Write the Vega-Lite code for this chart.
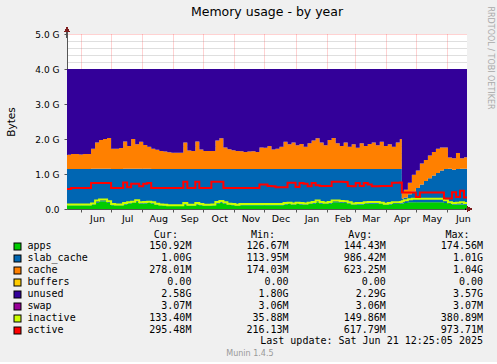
{
  "$schema": "https://vega.github.io/schema/vega-lite/v6.json",
  "background": "#f0f0f0",
  "padding": {"left": 6, "top": 5, "right": 4, "bottom": 4},
  "config": {
    "view": {"stroke": null},
    "font": "DejaVu Sans",
    "axis": {"zindex": 1, "labelFont": "DejaVu Sans", "titleFont": "DejaVu Sans", "labelColor": "#000000", "titleColor": "#000000", "titleFontWeight": "normal", "domainColor": "#555555", "tickColor": "#555555"},
    "title": {"font": "DejaVu Sans", "fontWeight": "normal", "color": "#000000"}
  },
  "title": {"text": "Munin 1.4.5", "orient": "bottom", "anchor": "middle", "fontSize": 8, "color": "#999999", "offset": 4},
  "spacing": 6,
  "vconcat": [
    {
      "width": 400,
      "height": 175,
      "view": {"fill": "#ffffff", "stroke": null},
      "title": {"text": "Memory usage - by year", "fontSize": 12.5, "anchor": "middle", "frame": "group", "offset": -12},
      "data": {"values": [
        {"date": "2024-05-18", "apps": 0.11, "slab_cache": 1.03, "cache": 0.41, "buffers": 0, "unused": 2.447, "swap": 0.003, "inactive": 0.13, "active": 0.57},
        {"date": "2024-05-22", "apps": 0.11, "slab_cache": 1.03, "cache": 0.43, "buffers": 0, "unused": 2.427, "swap": 0.003, "inactive": 0.13, "active": 0.6},
        {"date": "2024-05-26", "apps": 0.11, "slab_cache": 1.03, "cache": 0.43, "buffers": 0, "unused": 2.427, "swap": 0.003, "inactive": 0.13, "active": 0.6},
        {"date": "2024-05-30", "apps": 0.11, "slab_cache": 1.03, "cache": 0.42, "buffers": 0, "unused": 2.437, "swap": 0.003, "inactive": 0.13, "active": 0.6},
        {"date": "2024-06-03", "apps": 0.11, "slab_cache": 1.03, "cache": 0.43, "buffers": 0, "unused": 2.427, "swap": 0.003, "inactive": 0.13, "active": 0.6},
        {"date": "2024-06-07", "apps": 0.11, "slab_cache": 1.03, "cache": 0.43, "buffers": 0, "unused": 2.427, "swap": 0.003, "inactive": 0.13, "active": 0.6},
        {"date": "2024-06-11", "apps": 0.12, "slab_cache": 1.03, "cache": 0.57, "buffers": 0, "unused": 2.277, "swap": 0.003, "inactive": 0.16, "active": 0.74},
        {"date": "2024-06-15", "apps": 0.18, "slab_cache": 0.97, "cache": 0.75, "buffers": 0, "unused": 2.097, "swap": 0.003, "inactive": 0.24, "active": 0.74},
        {"date": "2024-06-19", "apps": 0.22, "slab_cache": 0.93, "cache": 0.82, "buffers": 0, "unused": 2.027, "swap": 0.003, "inactive": 0.27, "active": 0.74},
        {"date": "2024-06-23", "apps": 0.22, "slab_cache": 0.93, "cache": 0.85, "buffers": 0, "unused": 1.997, "swap": 0.003, "inactive": 0.27, "active": 0.74},
        {"date": "2024-06-27", "apps": 0.17, "slab_cache": 0.98, "cache": 0.88, "buffers": 0, "unused": 1.967, "swap": 0.003, "inactive": 0.22, "active": 0.74},
        {"date": "2024-07-01", "apps": 0.11, "slab_cache": 1.03, "cache": 0.58, "buffers": 0, "unused": 2.277, "swap": 0.003, "inactive": 0.14, "active": 0.6},
        {"date": "2024-07-05", "apps": 0.11, "slab_cache": 1.03, "cache": 0.58, "buffers": 0, "unused": 2.277, "swap": 0.003, "inactive": 0.13, "active": 0.6},
        {"date": "2024-07-09", "apps": 0.11, "slab_cache": 1.03, "cache": 0.6, "buffers": 0, "unused": 2.257, "swap": 0.003, "inactive": 0.13, "active": 0.6},
        {"date": "2024-07-13", "apps": 0.13, "slab_cache": 1.02, "cache": 0.78, "buffers": 0, "unused": 2.067, "swap": 0.003, "inactive": 0.17, "active": 0.76},
        {"date": "2024-07-17", "apps": 0.15, "slab_cache": 1.0, "cache": 0.65, "buffers": 0, "unused": 2.197, "swap": 0.003, "inactive": 0.19, "active": 0.62},
        {"date": "2024-07-21", "apps": 0.17, "slab_cache": 0.98, "cache": 0.85, "buffers": 0, "unused": 1.997, "swap": 0.003, "inactive": 0.21, "active": 0.72},
        {"date": "2024-07-25", "apps": 0.2, "slab_cache": 0.95, "cache": 0.7, "buffers": 0, "unused": 2.147, "swap": 0.003, "inactive": 0.25, "active": 0.72},
        {"date": "2024-07-29", "apps": 0.15, "slab_cache": 1.0, "cache": 0.77, "buffers": 0, "unused": 2.077, "swap": 0.003, "inactive": 0.19, "active": 0.65},
        {"date": "2024-08-02", "apps": 0.16, "slab_cache": 0.99, "cache": 0.68, "buffers": 0, "unused": 2.167, "swap": 0.003, "inactive": 0.2, "active": 0.72},
        {"date": "2024-08-06", "apps": 0.17, "slab_cache": 0.98, "cache": 0.63, "buffers": 0, "unused": 2.217, "swap": 0.003, "inactive": 0.21, "active": 0.74},
        {"date": "2024-08-10", "apps": 0.15, "slab_cache": 0.99, "cache": 0.58, "buffers": 0, "unused": 2.277, "swap": 0.003, "inactive": 0.19, "active": 0.6},
        {"date": "2024-08-14", "apps": 0.12, "slab_cache": 1.02, "cache": 0.55, "buffers": 0, "unused": 2.307, "swap": 0.003, "inactive": 0.15, "active": 0.6},
        {"date": "2024-08-18", "apps": 0.11, "slab_cache": 1.03, "cache": 0.52, "buffers": 0, "unused": 2.337, "swap": 0.003, "inactive": 0.13, "active": 0.6},
        {"date": "2024-08-22", "apps": 0.1, "slab_cache": 1.04, "cache": 0.5, "buffers": 0, "unused": 2.357, "swap": 0.003, "inactive": 0.12, "active": 0.6},
        {"date": "2024-08-26", "apps": 0.09, "slab_cache": 1.05, "cache": 0.48, "buffers": 0, "unused": 2.377, "swap": 0.003, "inactive": 0.11, "active": 0.6},
        {"date": "2024-08-30", "apps": 0.09, "slab_cache": 1.05, "cache": 0.47, "buffers": 0, "unused": 2.387, "swap": 0.003, "inactive": 0.11, "active": 0.6},
        {"date": "2024-09-03", "apps": 0.09, "slab_cache": 1.05, "cache": 0.47, "buffers": 0, "unused": 2.387, "swap": 0.003, "inactive": 0.11, "active": 0.6},
        {"date": "2024-09-07", "apps": 0.09, "slab_cache": 1.05, "cache": 0.47, "buffers": 0, "unused": 2.387, "swap": 0.003, "inactive": 0.11, "active": 0.6},
        {"date": "2024-09-11", "apps": 0.13, "slab_cache": 1.01, "cache": 0.76, "buffers": 0, "unused": 2.097, "swap": 0.003, "inactive": 0.17, "active": 0.78},
        {"date": "2024-09-15", "apps": 0.1, "slab_cache": 1.04, "cache": 0.53, "buffers": 0, "unused": 2.327, "swap": 0.003, "inactive": 0.12, "active": 0.6},
        {"date": "2024-09-19", "apps": 0.1, "slab_cache": 1.04, "cache": 0.52, "buffers": 0, "unused": 2.337, "swap": 0.003, "inactive": 0.12, "active": 0.6},
        {"date": "2024-09-23", "apps": 0.13, "slab_cache": 1.01, "cache": 0.79, "buffers": 0, "unused": 2.067, "swap": 0.003, "inactive": 0.17, "active": 0.78},
        {"date": "2024-09-27", "apps": 0.11, "slab_cache": 1.03, "cache": 0.56, "buffers": 0, "unused": 2.297, "swap": 0.003, "inactive": 0.14, "active": 0.6},
        {"date": "2024-10-01", "apps": 0.1, "slab_cache": 1.04, "cache": 0.52, "buffers": 0, "unused": 2.337, "swap": 0.003, "inactive": 0.12, "active": 0.6},
        {"date": "2024-10-05", "apps": 0.1, "slab_cache": 1.04, "cache": 0.52, "buffers": 0, "unused": 2.337, "swap": 0.003, "inactive": 0.12, "active": 0.6},
        {"date": "2024-10-09", "apps": 0.1, "slab_cache": 1.04, "cache": 0.52, "buffers": 0, "unused": 2.337, "swap": 0.003, "inactive": 0.13, "active": 0.78},
        {"date": "2024-10-13", "apps": 0.15, "slab_cache": 0.99, "cache": 0.82, "buffers": 0, "unused": 2.037, "swap": 0.003, "inactive": 0.2, "active": 0.78},
        {"date": "2024-10-17", "apps": 0.18, "slab_cache": 0.96, "cache": 0.88, "buffers": 0, "unused": 1.977, "swap": 0.003, "inactive": 0.23, "active": 0.78},
        {"date": "2024-10-21", "apps": 0.15, "slab_cache": 0.99, "cache": 0.62, "buffers": 0, "unused": 2.237, "swap": 0.003, "inactive": 0.19, "active": 0.6},
        {"date": "2024-10-25", "apps": 0.12, "slab_cache": 1.02, "cache": 0.57, "buffers": 0, "unused": 2.287, "swap": 0.003, "inactive": 0.15, "active": 0.6},
        {"date": "2024-10-29", "apps": 0.11, "slab_cache": 1.03, "cache": 0.54, "buffers": 0, "unused": 2.317, "swap": 0.003, "inactive": 0.14, "active": 0.6},
        {"date": "2024-11-02", "apps": 0.1, "slab_cache": 1.04, "cache": 0.52, "buffers": 0, "unused": 2.337, "swap": 0.003, "inactive": 0.12, "active": 0.6},
        {"date": "2024-11-06", "apps": 0.11, "slab_cache": 1.03, "cache": 0.51, "buffers": 0, "unused": 2.347, "swap": 0.003, "inactive": 0.14, "active": 0.6},
        {"date": "2024-11-10", "apps": 0.11, "slab_cache": 1.03, "cache": 0.49, "buffers": 0, "unused": 2.367, "swap": 0.003, "inactive": 0.14, "active": 0.6},
        {"date": "2024-11-14", "apps": 0.11, "slab_cache": 1.03, "cache": 0.5, "buffers": 0, "unused": 2.357, "swap": 0.003, "inactive": 0.14, "active": 0.6},
        {"date": "2024-11-18", "apps": 0.11, "slab_cache": 1.03, "cache": 0.51, "buffers": 0, "unused": 2.347, "swap": 0.003, "inactive": 0.14, "active": 0.6},
        {"date": "2024-11-22", "apps": 0.11, "slab_cache": 1.03, "cache": 0.49, "buffers": 0, "unused": 2.367, "swap": 0.003, "inactive": 0.14, "active": 0.6},
        {"date": "2024-11-26", "apps": 0.11, "slab_cache": 1.03, "cache": 0.62, "buffers": 0, "unused": 2.237, "swap": 0.003, "inactive": 0.14, "active": 0.7},
        {"date": "2024-11-30", "apps": 0.11, "slab_cache": 1.03, "cache": 0.61, "buffers": 0, "unused": 2.247, "swap": 0.003, "inactive": 0.14, "active": 0.7},
        {"date": "2024-12-04", "apps": 0.11, "slab_cache": 1.03, "cache": 0.66, "buffers": 0, "unused": 2.197, "swap": 0.003, "inactive": 0.14, "active": 0.66},
        {"date": "2024-12-08", "apps": 0.11, "slab_cache": 1.03, "cache": 0.56, "buffers": 0, "unused": 2.297, "swap": 0.003, "inactive": 0.14, "active": 0.65},
        {"date": "2024-12-12", "apps": 0.11, "slab_cache": 1.03, "cache": 0.58, "buffers": 0, "unused": 2.277, "swap": 0.003, "inactive": 0.14, "active": 0.62},
        {"date": "2024-12-16", "apps": 0.11, "slab_cache": 1.03, "cache": 0.64, "buffers": 0, "unused": 2.217, "swap": 0.003, "inactive": 0.14, "active": 0.62},
        {"date": "2024-12-20", "apps": 0.13, "slab_cache": 1.01, "cache": 0.78, "buffers": 0, "unused": 2.077, "swap": 0.003, "inactive": 0.17, "active": 0.62},
        {"date": "2024-12-24", "apps": 0.14, "slab_cache": 1.0, "cache": 0.71, "buffers": 0, "unused": 2.147, "swap": 0.003, "inactive": 0.18, "active": 0.75},
        {"date": "2024-12-28", "apps": 0.12, "slab_cache": 1.02, "cache": 0.76, "buffers": 0, "unused": 2.097, "swap": 0.003, "inactive": 0.16, "active": 0.75},
        {"date": "2025-01-01", "apps": 0.14, "slab_cache": 1.0, "cache": 0.68, "buffers": 0, "unused": 2.177, "swap": 0.003, "inactive": 0.18, "active": 0.63},
        {"date": "2025-01-05", "apps": 0.13, "slab_cache": 1.01, "cache": 0.72, "buffers": 0, "unused": 2.137, "swap": 0.003, "inactive": 0.17, "active": 0.74},
        {"date": "2025-01-09", "apps": 0.12, "slab_cache": 1.02, "cache": 0.64, "buffers": 0, "unused": 2.217, "swap": 0.003, "inactive": 0.16, "active": 0.72},
        {"date": "2025-01-13", "apps": 0.14, "slab_cache": 1.0, "cache": 0.74, "buffers": 0, "unused": 2.117, "swap": 0.003, "inactive": 0.18, "active": 0.65},
        {"date": "2025-01-17", "apps": 0.15, "slab_cache": 0.99, "cache": 0.82, "buffers": 0, "unused": 2.037, "swap": 0.003, "inactive": 0.2, "active": 0.74},
        {"date": "2025-01-21", "apps": 0.19, "slab_cache": 0.95, "cache": 0.88, "buffers": 0, "unused": 1.977, "swap": 0.003, "inactive": 0.24, "active": 0.68},
        {"date": "2025-01-25", "apps": 0.15, "slab_cache": 0.99, "cache": 0.76, "buffers": 0, "unused": 2.097, "swap": 0.003, "inactive": 0.2, "active": 0.66},
        {"date": "2025-01-29", "apps": 0.14, "slab_cache": 1.0, "cache": 0.68, "buffers": 0, "unused": 2.177, "swap": 0.003, "inactive": 0.18, "active": 0.66},
        {"date": "2025-02-02", "apps": 0.15, "slab_cache": 0.99, "cache": 0.83, "buffers": 0, "unused": 2.027, "swap": 0.003, "inactive": 0.2, "active": 0.66},
        {"date": "2025-02-06", "apps": 0.19, "slab_cache": 0.95, "cache": 0.89, "buffers": 0, "unused": 1.967, "swap": 0.003, "inactive": 0.24, "active": 0.78},
        {"date": "2025-02-10", "apps": 0.19, "slab_cache": 0.95, "cache": 0.74, "buffers": 0, "unused": 2.117, "swap": 0.003, "inactive": 0.24, "active": 0.78},
        {"date": "2025-02-14", "apps": 0.18, "slab_cache": 0.96, "cache": 0.66, "buffers": 0, "unused": 2.197, "swap": 0.003, "inactive": 0.23, "active": 0.78},
        {"date": "2025-02-18", "apps": 0.17, "slab_cache": 0.97, "cache": 0.76, "buffers": 0, "unused": 2.097, "swap": 0.003, "inactive": 0.22, "active": 0.77},
        {"date": "2025-02-22", "apps": 0.15, "slab_cache": 0.99, "cache": 0.64, "buffers": 0, "unused": 2.217, "swap": 0.003, "inactive": 0.19, "active": 0.66},
        {"date": "2025-02-26", "apps": 0.13, "slab_cache": 1.01, "cache": 0.71, "buffers": 0, "unused": 2.147, "swap": 0.003, "inactive": 0.16, "active": 0.65},
        {"date": "2025-03-02", "apps": 0.13, "slab_cache": 1.01, "cache": 0.61, "buffers": 0, "unused": 2.247, "swap": 0.003, "inactive": 0.17, "active": 0.74},
        {"date": "2025-03-06", "apps": 0.13, "slab_cache": 1.01, "cache": 0.74, "buffers": 0, "unused": 2.117, "swap": 0.003, "inactive": 0.17, "active": 0.66},
        {"date": "2025-03-10", "apps": 0.15, "slab_cache": 0.99, "cache": 0.66, "buffers": 0, "unused": 2.197, "swap": 0.003, "inactive": 0.19, "active": 0.74},
        {"date": "2025-03-14", "apps": 0.15, "slab_cache": 0.99, "cache": 0.72, "buffers": 0, "unused": 2.137, "swap": 0.003, "inactive": 0.2, "active": 0.7},
        {"date": "2025-03-18", "apps": 0.15, "slab_cache": 0.99, "cache": 0.76, "buffers": 0, "unused": 2.097, "swap": 0.003, "inactive": 0.2, "active": 0.65},
        {"date": "2025-03-22", "apps": 0.15, "slab_cache": 0.99, "cache": 0.68, "buffers": 0, "unused": 2.177, "swap": 0.003, "inactive": 0.2, "active": 0.65},
        {"date": "2025-03-26", "apps": 0.14, "slab_cache": 1.0, "cache": 0.78, "buffers": 0, "unused": 2.077, "swap": 0.003, "inactive": 0.18, "active": 0.66},
        {"date": "2025-03-30", "apps": 0.12, "slab_cache": 1.02, "cache": 0.66, "buffers": 0, "unused": 2.197, "swap": 0.003, "inactive": 0.15, "active": 0.66},
        {"date": "2025-04-03", "apps": 0.13, "slab_cache": 1.01, "cache": 0.71, "buffers": 0, "unused": 2.147, "swap": 0.003, "inactive": 0.17, "active": 0.66},
        {"date": "2025-04-07", "apps": 0.14, "slab_cache": 1.0, "cache": 0.64, "buffers": 0, "unused": 2.217, "swap": 0.003, "inactive": 0.19, "active": 0.75},
        {"date": "2025-04-11", "apps": 0.14, "slab_cache": 1.0, "cache": 0.76, "buffers": 0, "unused": 2.097, "swap": 0.003, "inactive": 0.19, "active": 0.75},
        {"date": "2025-04-15", "apps": 0.15, "slab_cache": 0.99, "cache": 0.86, "buffers": 0, "unused": 1.997, "swap": 0.003, "inactive": 0.2, "active": 0.76},
        {"date": "2025-04-17", "apps": 0.16, "slab_cache": 0.14, "cache": 0.15, "buffers": 0, "unused": 3.547, "swap": 0.003, "inactive": 0.22, "active": 0.47},
        {"date": "2025-04-19", "apps": 0.17, "slab_cache": 0.16, "cache": 0.22, "buffers": 0, "unused": 3.447, "swap": 0.003, "inactive": 0.25, "active": 0.47},
        {"date": "2025-04-23", "apps": 0.19, "slab_cache": 0.23, "cache": 0.33, "buffers": 0, "unused": 3.247, "swap": 0.003, "inactive": 0.28, "active": 0.47},
        {"date": "2025-04-27", "apps": 0.19, "slab_cache": 0.31, "cache": 0.48, "buffers": 0, "unused": 3.017, "swap": 0.003, "inactive": 0.29, "active": 0.47},
        {"date": "2025-05-01", "apps": 0.19, "slab_cache": 0.41, "cache": 0.5, "buffers": 0, "unused": 2.897, "swap": 0.003, "inactive": 0.29, "active": 0.34},
        {"date": "2025-05-05", "apps": 0.19, "slab_cache": 0.51, "cache": 0.6, "buffers": 0, "unused": 2.697, "swap": 0.003, "inactive": 0.29, "active": 0.47},
        {"date": "2025-05-09", "apps": 0.19, "slab_cache": 0.61, "cache": 0.6, "buffers": 0, "unused": 2.597, "swap": 0.003, "inactive": 0.29, "active": 0.47},
        {"date": "2025-05-13", "apps": 0.19, "slab_cache": 0.69, "cache": 0.65, "buffers": 0, "unused": 2.467, "swap": 0.003, "inactive": 0.29, "active": 0.47},
        {"date": "2025-05-17", "apps": 0.19, "slab_cache": 0.77, "cache": 0.67, "buffers": 0, "unused": 2.367, "swap": 0.003, "inactive": 0.29, "active": 0.47},
        {"date": "2025-05-21", "apps": 0.19, "slab_cache": 0.84, "cache": 0.69, "buffers": 0, "unused": 2.277, "swap": 0.003, "inactive": 0.29, "active": 0.47},
        {"date": "2025-05-25", "apps": 0.19, "slab_cache": 0.91, "cache": 0.66, "buffers": 0, "unused": 2.237, "swap": 0.003, "inactive": 0.29, "active": 0.47},
        {"date": "2025-05-29", "apps": 0.17, "slab_cache": 0.97, "cache": 0.62, "buffers": 0, "unused": 2.237, "swap": 0.003, "inactive": 0.25, "active": 0.3},
        {"date": "2025-06-02", "apps": 0.14, "slab_cache": 1.01, "cache": 0.32, "buffers": 0, "unused": 2.527, "swap": 0.003, "inactive": 0.19, "active": 0.3},
        {"date": "2025-06-06", "apps": 0.13, "slab_cache": 0.99, "cache": 0.33, "buffers": 0, "unused": 2.547, "swap": 0.003, "inactive": 0.17, "active": 0.48},
        {"date": "2025-06-10", "apps": 0.13, "slab_cache": 1.01, "cache": 0.46, "buffers": 0, "unused": 2.397, "swap": 0.003, "inactive": 0.18, "active": 0.34},
        {"date": "2025-06-14", "apps": 0.13, "slab_cache": 1.02, "cache": 0.3, "buffers": 0, "unused": 2.547, "swap": 0.003, "inactive": 0.19, "active": 0.52},
        {"date": "2025-06-18", "apps": 0.12, "slab_cache": 1.03, "cache": 0.33, "buffers": 0, "unused": 2.517, "swap": 0.003, "inactive": 0.17, "active": 0.33},
        {"date": "2025-06-21", "apps": 0.12, "slab_cache": 1.03, "cache": 0.28, "buffers": 0, "unused": 2.567, "swap": 0.003, "inactive": 0.17, "active": 0.33}
      ]},
      "resolve": {"scale": {"y": "independent"}},
      "layer": [
        {
          "transform": [
            {"fold": ["apps", "slab_cache", "cache", "buffers", "unused", "swap"], "as": ["series", "value"]},
            {"calculate": "indexof(['apps','slab_cache','cache','buffers','unused','swap'], datum.series)", "as": "stack_order"}
          ],
          "mark": {"type": "area", "interpolate": "step-after"},
          "encoding": {
            "x": {
              "field": "date", "type": "temporal",
              "scale": {"type": "utc", "domain": [{"year": 2024, "month": 5, "date": 18, "utc": true}, {"year": 2025, "month": 6, "date": 21, "utc": true}]},
              "axis": {
                "title": null,
                "tickCount": {"interval": "month", "step": 1},
                "labelExpr": "utcFormat(datum.value, '%b')",
                "labelAlign": "center", "labelOffset": 16, "labelFontSize": 9.5, "labelPadding": 1,
                "labelFlush": false, "labelOverlap": false, "labelBound": false,
                "tickSize": 3,
                "grid": true, "gridColor": "#ff2020", "gridOpacity": 0.4, "gridDash": [1, 1]
              }
            },
            "y": {
              "field": "value", "type": "quantitative", "stack": "zero",
              "scale": {"domain": [0, 5], "nice": false, "zero": true},
              "axis": {
                "title": "Bytes", "titleFontSize": 10.5, "titlePadding": 18,
                "values": [0, 0.2, 0.4, 0.6, 0.8, 1, 1.2, 1.4, 1.6, 1.8, 2, 2.2, 2.4, 2.6, 2.8, 3, 3.2, 3.4, 3.6, 3.8, 4, 4.2, 4.4, 4.6, 4.8, 5],
                "labelExpr": "datum.value % 1 === 0 ? (datum.value === 0 ? '0.0' : format(datum.value, '.1f') + ' G') : ''",
                "labelFontSize": 9, "labelPadding": 5, "labelOverlap": false,
                "tickSize": 3,
                "tickOpacity": {"condition": {"test": "datum.value % 1 === 0", "value": 1}, "value": 0},
                "grid": true,
                "gridColor": {"condition": {"test": "datum.value % 1 === 0", "value": "#ff2020"}, "value": "#8c8c8c"},
                "gridOpacity": {"condition": {"test": "datum.value % 1 === 0", "value": 0.4}, "value": 0.55},
                "gridDash": [1, 1]
              }
            },
            "color": {
              "field": "series", "type": "nominal",
              "scale": {"domain": ["apps", "slab_cache", "cache", "buffers", "unused", "swap"], "range": ["#00CC00", "#0066B3", "#FF8000", "#FFCC00", "#330099", "#990099"]},
              "legend": null
            },
            "order": {"field": "stack_order", "type": "quantitative"}
          }
        },
        {
          "mark": {"type": "line", "interpolate": "step-after", "strokeWidth": 2, "color": "#CCFF00"},
          "encoding": {
            "x": {"field": "date", "type": "temporal"},
            "y": {"field": "inactive", "type": "quantitative", "scale": {"domain": [0, 5], "nice": false}, "axis": null}
          }
        },
        {
          "mark": {"type": "line", "interpolate": "step-after", "strokeWidth": 2, "color": "#FF0000"},
          "encoding": {
            "x": {"field": "date", "type": "temporal"},
            "y": {"field": "active", "type": "quantitative", "scale": {"domain": [0, 5], "nice": false}, "axis": null}
          }
        },
        {
          "mark": {"type": "rule", "color": "#555555"},
          "encoding": {
            "x": {"datum": {"year": 2024, "month": 5, "date": 18, "utc": true}, "type": "temporal"},
            "y": {"datum": 4.9, "type": "quantitative", "scale": {"domain": [0, 5], "nice": false}, "axis": null},
            "y2": {"datum": 5.1}
          }
        },
        {
          "mark": {"type": "point", "shape": "triangle-up", "filled": true, "size": 22, "color": "#7f2020", "opacity": 1},
          "encoding": {
            "x": {"datum": {"year": 2024, "month": 5, "date": 18, "utc": true}, "type": "temporal"},
            "y": {"datum": 5.13, "type": "quantitative", "scale": {"domain": [0, 5], "nice": false}, "axis": null}
          }
        },
        {
          "mark": {"type": "rule", "color": "#555555"},
          "encoding": {
            "x": {"datum": {"year": 2025, "month": 6, "date": 20, "utc": true}, "type": "temporal"},
            "x2": {"datum": {"year": 2025, "month": 6, "date": 23, "utc": true}},
            "y": {"datum": 0, "type": "quantitative", "scale": {"domain": [0, 5], "nice": false}, "axis": null}
          }
        },
        {
          "mark": {"type": "point", "shape": "triangle-right", "filled": true, "size": 22, "color": "#7f2020", "opacity": 1},
          "encoding": {
            "x": {"datum": {"year": 2025, "month": 6, "date": 23, "hours": 12, "utc": true}, "type": "temporal"},
            "y": {"datum": 0, "type": "quantitative", "scale": {"domain": [0, 5], "nice": false}, "axis": null}
          }
        },
        {
          "mark": {"type": "rule", "opacity": 0},
          "encoding": {
            "y": {
              "datum": 0, "type": "quantitative",
              "scale": {"domain": [0, 5], "nice": false},
              "axis": {
                "orient": "right", "title": "RRDTOOL / TOBI OETIKER",
                "labels": false, "ticks": false, "domain": false, "grid": false,
                "titleFont": "DejaVu Sans", "titleFontSize": 8, "titleColor": "#aaaaaa",
                "titleAngle": 90, "titleAlign": "left", "titleY": -28, "titlePadding": 18
              }
            }
          }
        }
      ]
    },
    {
      "width": 416,
      "height": 96,
      "data": {"values": [
        {"series": "apps", "Cur": "150.92M", "Min": "126.67M", "Avg": "144.43M", "Max": "174.56M"},
        {"series": "slab_cache", "Cur": "1.00G", "Min": "113.95M", "Avg": "986.42M", "Max": "1.01G"},
        {"series": "cache", "Cur": "278.01M", "Min": "174.03M", "Avg": "623.25M", "Max": "1.04G"},
        {"series": "buffers", "Cur": "0.00\u00a0", "Min": "0.00\u00a0", "Avg": "0.00\u00a0", "Max": "0.00\u00a0"},
        {"series": "unused", "Cur": "2.58G", "Min": "1.80G", "Avg": "2.29G", "Max": "3.57G"},
        {"series": "swap", "Cur": "3.07M", "Min": "3.06M", "Avg": "3.06M", "Max": "3.07M"},
        {"series": "inactive", "Cur": "133.40M", "Min": "35.88M", "Avg": "149.86M", "Max": "380.89M"},
        {"series": "active", "Cur": "295.48M", "Min": "216.13M", "Avg": "617.79M", "Max": "973.71M"}
      ]},
      "title": {"text": "Last update: Sat Jun 21 12:25:05 2025", "orient": "bottom", "anchor": "end", "frame": "group", "font": "DejaVu Sans Mono", "fontSize": 10, "offset": 0},
      "resolve": {"axis": {"y": "independent"}},
      "layer": [
        {
          "transform": [{"fold": ["Cur", "Min", "Avg", "Max"], "as": ["stat", "text"]}],
          "mark": {"type": "text", "align": "right", "baseline": "middle", "font": "DejaVu Sans Mono", "fontSize": 10, "color": "#000000"},
          "encoding": {
            "x": {
              "field": "stat", "type": "nominal",
              "scale": {"type": "point", "domain": ["Cur", "Min", "Avg", "Max"], "padding": 0.64, "align": 1},
              "axis": {"orient": "top", "title": null, "domain": false, "ticks": false, "grid": false, "labelExpr": "datum.value + ':'", "labelAlign": "right", "labelOffset": -14, "labelPadding": 1, "labelFont": "DejaVu Sans Mono", "labelFontSize": 10, "labelAngle": 0}
            },
            "y": {
              "field": "series", "type": "nominal",
              "scale": {"type": "band", "domain": ["apps", "slab_cache", "cache", "buffers", "unused", "swap", "inactive", "active"], "paddingInner": 0, "paddingOuter": 0},
              "axis": {"orient": "left", "title": null, "domain": false, "grid": false, "offset": 46, "tickSize": 8, "tickWidth": 8, "tickColor": "#000000", "labelAlign": "left", "labelPadding": -14, "labelFont": "DejaVu Sans Mono", "labelFontSize": 10, "labelColor": "#000000"}
            },
            "text": {"field": "text"}
          }
        },
        {
          "mark": {"type": "point", "opacity": 0},
          "encoding": {
            "y": {
              "field": "series", "type": "nominal",
              "scale": {"type": "band", "domain": ["apps", "slab_cache", "cache", "buffers", "unused", "swap", "inactive", "active"], "paddingInner": 0, "paddingOuter": 0},
              "axis": {
                "orient": "left", "title": null, "domain": false, "grid": false, "labels": false,
                "offset": 47, "tickSize": 6, "tickWidth": 6,
                "tickColor": {"condition": [
                  {"test": "datum.value === 'apps'", "value": "#00CC00"},
                  {"test": "datum.value === 'slab_cache'", "value": "#0066B3"},
                  {"test": "datum.value === 'cache'", "value": "#FF8000"},
                  {"test": "datum.value === 'buffers'", "value": "#FFCC00"},
                  {"test": "datum.value === 'unused'", "value": "#330099"},
                  {"test": "datum.value === 'swap'", "value": "#990099"},
                  {"test": "datum.value === 'inactive'", "value": "#CCFF00"}
                ], "value": "#FF0000"}
              }
            }
          }
        }
      ]
    }
  ]
}
